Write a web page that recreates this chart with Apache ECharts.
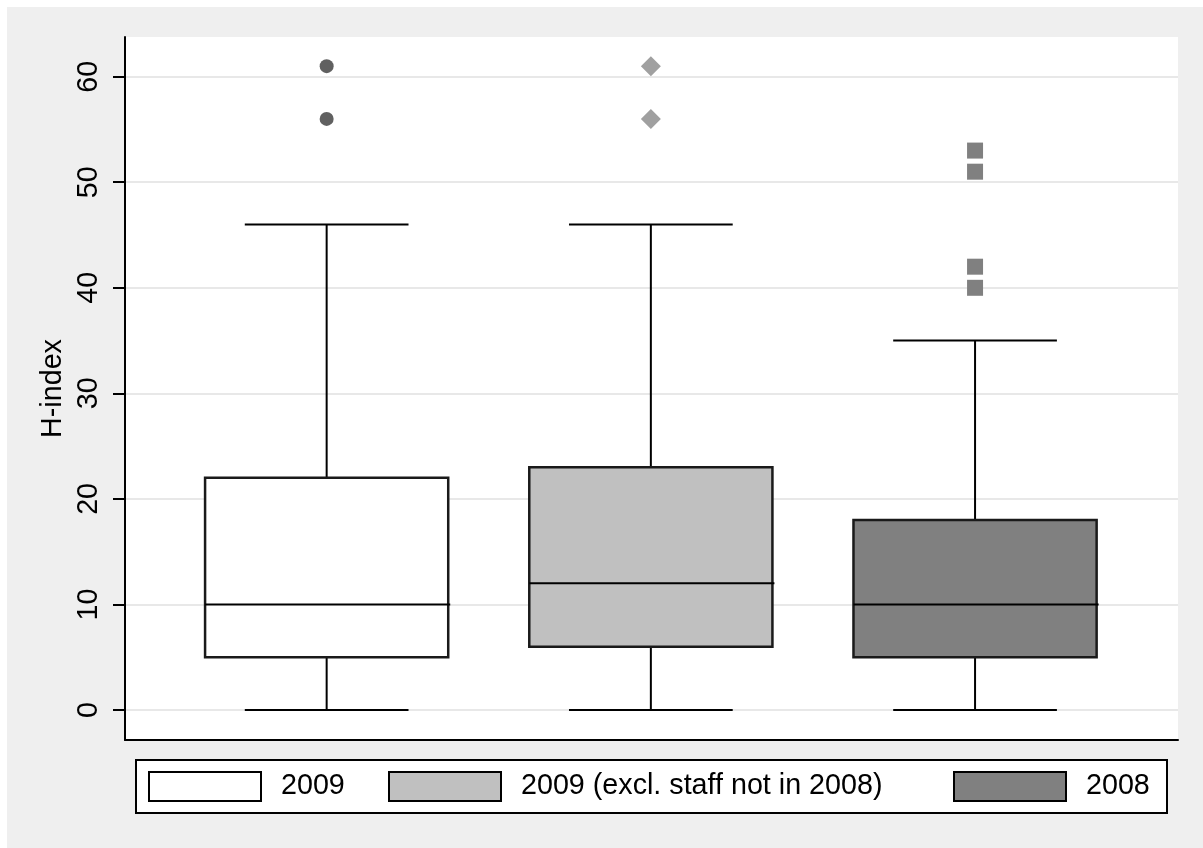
<!DOCTYPE html>
<html>
<head>
<meta charset="utf-8">
<title>H-index box plot</title>
<script src="https://cdn.jsdelivr.net/npm/echarts@6/dist/echarts.min.js"></script>
<style>
  html, body { margin: 0; padding: 0; background: #fff; }
  #chart { position: absolute; left: 7px; top: 7px; width: 1196px; height: 841px; }
</style>
</head>
<body>
<div id="chart"></div>
<script>
// groups, left to right
var groupNames = ["2009", "2009 (excl. staff not in 2008)", "2008"];
var groupPos = [1, 2, 3];
// [min, Q1, median, Q3, max] for each group
var boxStats = [
  [0, 5, 10, 22, 46],
  [0, 6, 12, 23, 46],
  [0, 5, 10, 18, 35]
];
// outside values
var outliers2009 = [61, 56];
var outliers2009excl = [61, 56];
var outliers2008 = [53, 51, 42, 40];
var yTicks = [0, 10, 20, 30, 40, 50, 60];

var FONT = "Liberation Sans";
var FONT_SIZE = 28.7;
var BOX_W = 0.75;   // box width, in x units
var CAP_W = 0.505;  // whisker cap width, in x units
var fills = ["#ffffff", "#c0c0c0", "#808080"];
var legendLefts = [141, 381, 946];

function renderBox(params, api) {
  var x = api.value(0);
  var pMin = api.coord([x, api.value(1)]);
  var pQ1 = api.coord([x, api.value(2)]);
  var pMed = api.coord([x, api.value(3)]);
  var pQ3 = api.coord([x, api.value(4)]);
  var pMax = api.coord([x, api.value(5)]);
  var bw = api.size([BOX_W, 0])[0];
  var cw = api.size([CAP_W, 0])[0];
  var cx = pMed[0];
  var lineStyle = { stroke: "#000", lineWidth: 2 };
  return {
    type: "group",
    children: [
      { type: "line", shape: { x1: cx, y1: pMin[1], x2: cx, y2: pQ1[1] }, style: lineStyle },
      { type: "line", shape: { x1: cx, y1: pQ3[1], x2: cx, y2: pMax[1] }, style: lineStyle },
      { type: "line", shape: { x1: cx - cw / 2, y1: pMin[1], x2: cx + cw / 2, y2: pMin[1] }, style: lineStyle },
      { type: "line", shape: { x1: cx - cw / 2, y1: pMax[1], x2: cx + cw / 2, y2: pMax[1] }, style: lineStyle },
      {
        type: "rect",
        shape: { x: cx - bw / 2, y: pQ3[1], width: bw, height: pQ1[1] - pQ3[1] },
        style: { fill: api.visual("color"), stroke: "#1a1a1a", lineWidth: 2.5 }
      },
      { type: "line", shape: { x1: cx - bw / 2, y1: pMed[1], x2: cx + bw / 2 + 2, y2: pMed[1] }, style: lineStyle }
    ]
  };
}

function boxSeries(i) {
  return {
    name: groupNames[i],
    type: "custom",
    renderItem: renderBox,
    itemStyle: { color: fills[i] },
    encode: { x: 0, y: [1, 2, 3, 4, 5] },
    data: [[groupPos[i]].concat(boxStats[i])]
  };
}

function outlierSeries(i, values, symbol, size, color) {
  return {
    name: groupNames[i] + " outside values",
    type: "scatter",
    symbol: symbol,
    symbolSize: size,
    itemStyle: { color: color, opacity: 1 },
    data: values.map(function (v) { return [groupPos[i], v]; })
  };
}

function legendFor(i) {
  return {
    left: legendLefts[i],
    top: 764,
    padding: 0,
    itemWidth: 112,
    itemHeight: 29,
    icon: "rect",
    selectedMode: false,
    textStyle: {
      fontSize: FONT_SIZE, lineHeight: 29, color: "#000", fontFamily: FONT,
      padding: [0, 0, 0, 15]
    },
    data: [{
      name: groupNames[i],
      itemStyle: { color: fills[i], borderColor: "#000", borderWidth: 2 }
    }]
  };
}

var chart = echarts.init(document.getElementById("chart"));
chart.setOption({
  animation: false,
  backgroundColor: "#efefef",
  textStyle: { fontFamily: FONT },
  grid: {
    left: 118, top: 30, right: 25, bottom: 108,
    show: true, backgroundColor: "#fff", borderWidth: 0
  },
  // legend frame
  graphic: [{
    type: "rect",
    left: 128, top: 752,
    shape: { width: 1031, height: 53 },
    style: { fill: "#fff", stroke: "#000", lineWidth: 2 }
  }],
  xAxis: {
    type: "value",
    min: 0.378,
    max: 3.626,
    axisLine: { show: true, onZero: false, lineStyle: { color: "#000", width: 2 } },
    axisTick: { show: false },
    axisLabel: { show: false },
    splitLine: { show: false }
  },
  yAxis: {
    type: "value",
    min: -2.84,
    max: 63.76,
    name: "H-index",
    nameLocation: "middle",
    nameGap: 50,
    nameTextStyle: { fontSize: FONT_SIZE, color: "#000", fontFamily: FONT },
    axisLine: { show: true, onZero: false, lineStyle: { color: "#000", width: 2 } },
    axisTick: { show: true, length: 12, customValues: yTicks, lineStyle: { color: "#000", width: 2 } },
    axisLabel: {
      customValues: yTicks,
      rotate: 90,
      margin: 21,
      fontSize: FONT_SIZE,
      color: "#000",
      fontFamily: FONT
    },
    splitLine: { show: true, lineStyle: { color: "#e8e8e8", width: 2 } }
  },
  legend: [legendFor(0), legendFor(1), legendFor(2)],
  series: [
    boxSeries(0),
    boxSeries(1),
    boxSeries(2),
    outlierSeries(0, outliers2009, "circle", 14, "#606060"),
    outlierSeries(1, outliers2009excl, "diamond", 20, "#a0a0a0"),
    outlierSeries(2, outliers2008, "rect", 16, "#808080")
  ]
});
</script>
</body>
</html>
